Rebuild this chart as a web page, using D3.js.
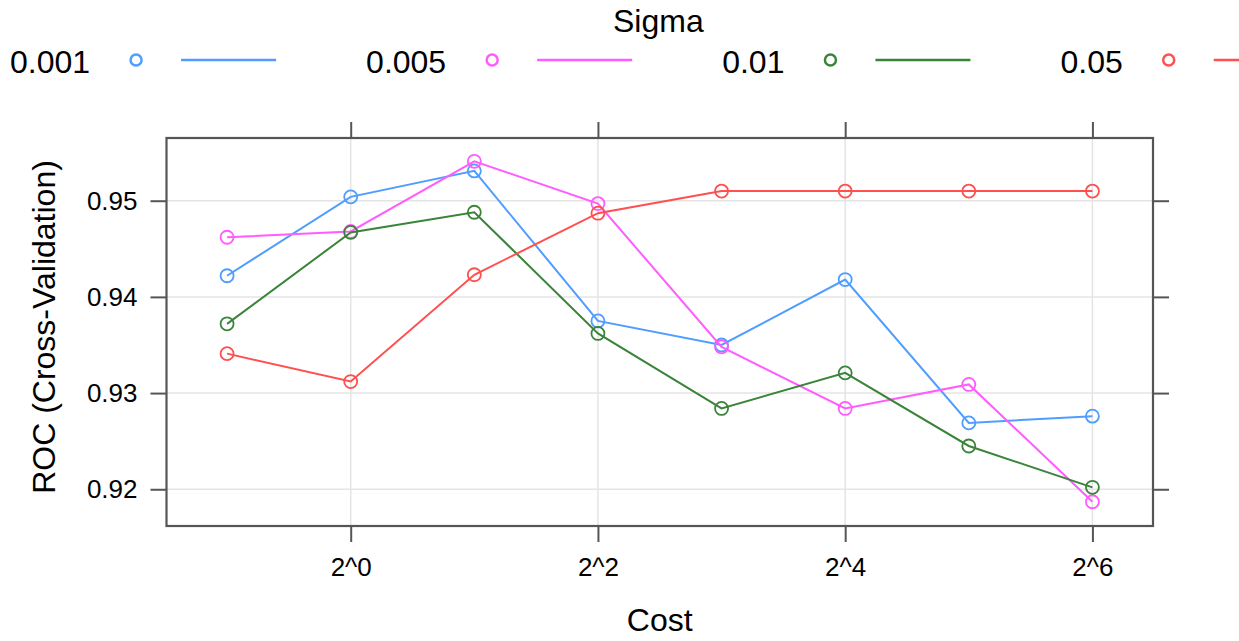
<!DOCTYPE html>
<html>
<head>
<meta charset="utf-8">
<script src="https://cdn.jsdelivr.net/npm/d3@7"></script>
<style>
  html, body { margin: 0; padding: 0; background: #fff; }
  svg text { font-family: "Liberation Sans", Arial, Helvetica, sans-serif; fill: #000; }
</style>
</head>
<body>
<svg id="chart" width="1239" height="641"></svg>
<script>
// ---- Data ----
const costs = [0.5, 1, 2, 4, 8, 16, 32, 64];
const sigmaLabels = ["0.001", "0.005", "0.01", "0.05"];
const roc_0001 = [0.9422, 0.9504, 0.9531, 0.9375, 0.9350, 0.9418, 0.9269, 0.9276];
const roc_0005 = [0.9462, 0.9468, 0.9541, 0.9497, 0.9348, 0.9284, 0.9309, 0.9187];
const roc_001  = [0.9372, 0.9467, 0.9488, 0.9362, 0.9284, 0.9321, 0.9245, 0.9202];
const roc_005  = [0.9341, 0.9312, 0.9423, 0.9487, 0.9510, 0.9510, 0.9510, 0.9510];
const xTickValues = [1, 4, 16, 64];
const xTickLabels = ["2^0", "2^2", "2^4", "2^6"];
const yTickValues = [0.92, 0.93, 0.94, 0.95];
const colors = ["#4f9dff", "#ff5cff", "#3a843a", "#ff4f4f"];

const seriesValues = [roc_0001, roc_0005, roc_001, roc_005];
const series = sigmaLabels.map((s, i) => ({
  label: s, color: colors[i],
  values: costs.map((c, j) => ({ cost: c, roc: seriesValues[i][j] }))
}));

// ---- Layout ----
const svg = d3.select("#chart");
const panel = { left: 166.5, right: 1153, top: 138, bottom: 526 };

const x = d3.scaleLog().base(2)
  .domain([Math.pow(2, -1.49), Math.pow(2, 6.49)])
  .range([panel.left, panel.right]);
const y = d3.scaleLinear()
  .domain([0.91618, 0.95652])
  .range([panel.bottom, panel.top]);

const axisColor = "#555";

// gridlines
const grid = svg.append("g");
grid.selectAll("line.gx").data(xTickValues).enter().append("line")
  .attr("x1", d => x(d)).attr("x2", d => x(d))
  .attr("y1", panel.top).attr("y2", panel.bottom)
  .attr("stroke", "#e4e4e4").attr("stroke-width", 1.5);
grid.selectAll("line.gy").data(yTickValues).enter().append("line")
  .attr("x1", panel.left).attr("x2", panel.right)
  .attr("y1", d => y(d)).attr("y2", d => y(d))
  .attr("stroke", "#e4e4e4").attr("stroke-width", 1.5);

// axes
const tickLen = 16;
const bottomAxis = d3.axisBottom(x).tickValues(xTickValues)
  .tickFormat((d, i) => xTickLabels[i]).tickSizeInner(tickLen).tickSizeOuter(0).tickPadding(16);
const topAxis = d3.axisTop(x).tickValues(xTickValues)
  .tickFormat("").tickSizeInner(tickLen).tickSizeOuter(0);
const leftAxis = d3.axisLeft(y).tickValues(yTickValues)
  .tickFormat(d3.format(".2f")).tickSizeInner(tickLen).tickSizeOuter(0).tickPadding(13);
const rightAxis = d3.axisRight(y).tickValues(yTickValues)
  .tickFormat("").tickSizeInner(tickLen).tickSizeOuter(0);

function styleAxis(g) {
  g.select(".domain").remove();
  g.selectAll(".tick line").attr("stroke", axisColor).attr("stroke-width", 2);
  g.selectAll(".tick text").attr("fill", "#222").style("font-size", "26px")
    .style("font-family", "Liberation Sans, Arial, sans-serif");
}
svg.append("g").attr("transform", `translate(0,${panel.bottom})`).call(bottomAxis).call(styleAxis);
svg.append("g").attr("transform", `translate(0,${panel.top})`).call(topAxis).call(styleAxis);
svg.append("g").attr("transform", `translate(${panel.left},0)`).call(leftAxis).call(styleAxis);
svg.append("g").attr("transform", `translate(${panel.right},0)`).call(rightAxis).call(styleAxis);

// panel box
svg.append("rect")
  .attr("x", panel.left).attr("y", panel.top)
  .attr("width", panel.right - panel.left).attr("height", panel.bottom - panel.top)
  .attr("fill", "none").attr("stroke", axisColor).attr("stroke-width", 2.2);

// lines & points
const line = d3.line().x(d => x(d.cost)).y(d => y(d.roc));
const sg = svg.append("g").selectAll("g").data(series).enter().append("g");
sg.append("path")
  .attr("d", d => line(d.values))
  .attr("fill", "none").attr("stroke", d => d.color).attr("stroke-width", 2);
sg.each(function(s) {
  d3.select(this).selectAll("circle").data(s.values).enter().append("circle")
    .attr("cx", d => x(d.cost)).attr("cy", d => y(d.roc)).attr("r", 6.5)
    .attr("fill", "none").attr("stroke", s.color).attr("stroke-width", 1.8);
});

// axis titles
svg.append("text")
  .attr("x", (panel.left + panel.right) / 2).attr("y", 631)
  .attr("text-anchor", "middle").style("font-size", "32px").attr("fill", "#222")
  .text("Cost");
svg.append("text")
  .attr("transform", `translate(55,${(panel.top + panel.bottom) / 2 - 5}) rotate(-90)`)
  .attr("text-anchor", "middle").style("font-size", "32px").attr("fill", "#222")
  .text("ROC (Cross-Validation)");

// legend
svg.append("text").attr("x", 613).attr("y", 32)
  .style("font-size", "32px").attr("fill", "#222").text("Sigma");
let lx = 10;
const legendY = 60;
series.forEach(s => {
  const t = svg.append("text").attr("x", lx).attr("y", legendY + 13)
    .style("font-size", "32px").attr("fill", "#222").text(s.label);
  const w = t.node().getComputedTextLength();
  const te = lx + w;
  svg.append("circle").attr("cx", te + 46).attr("cy", legendY).attr("r", 5.5)
    .attr("fill", "none").attr("stroke", s.color).attr("stroke-width", 2.5);
  svg.append("line").attr("x1", te + 91).attr("x2", te + 186)
    .attr("y1", legendY).attr("y2", legendY)
    .attr("stroke", s.color).attr("stroke-width", 2.5);
  lx = te + 186 + 90;
});
</script>
</body>
</html>
